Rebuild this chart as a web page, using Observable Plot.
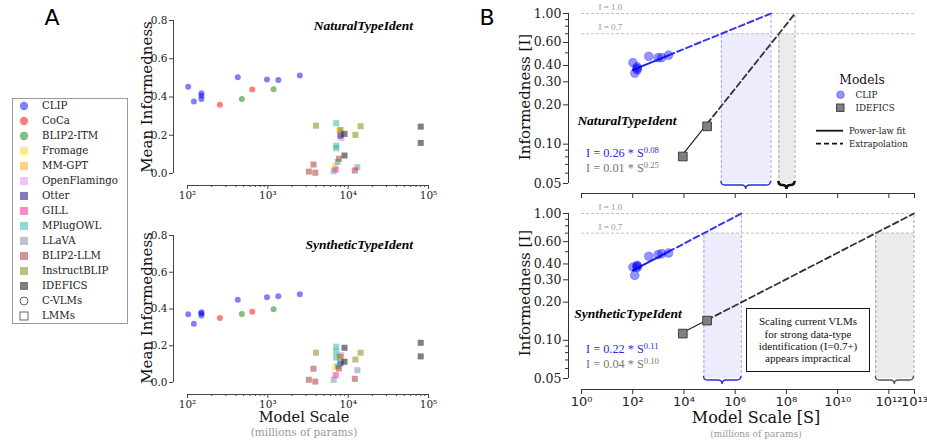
<!DOCTYPE html>
<html><head><meta charset="utf-8">
<script src="https://cdn.jsdelivr.net/npm/d3@7"></script>
<script src="https://cdn.jsdelivr.net/npm/@observablehq/plot@0.6"></script>
<style>
body{margin:0;background:#fff;}
#root{position:relative;width:927px;height:440px;overflow:hidden;font-family:"DejaVu Serif",serif;}
.abs{position:absolute;white-space:nowrap;line-height:1;}
.abs sup{font-size:70%;vertical-align:0;position:relative;top:-0.45em;}
.legA{position:absolute;left:12px;top:98px;width:116px;height:226px;border:1px solid #999;box-sizing:border-box;}
</style></head><body><div id="root"></div>
<script>
// ---------- DATA ----------
const modelNames = ["CLIP","CoCa","BLIP2-ITM","Fromage","MM-GPT","OpenFlamingo","Otter","GILL","MPlugOWL","LLaVA","BLIP2-LLM","InstructBLIP","IDEFICS"];
const modelFamily = ["C-VLM","C-VLM","C-VLM","LMM","LMM","LMM","LMM","LMM","LMM","LMM","LMM","LMM","LMM"];
const familyNames = ["C-VLMs","LMMs"];

// Panel A points (model scale in millions of params)
const ptModel = ["CLIP","CLIP","CLIP","CLIP","CLIP","CLIP","CLIP","CLIP","CLIP",
  "CoCa","CoCa","BLIP2-ITM","BLIP2-ITM",
  "Fromage","MM-GPT","OpenFlamingo","Otter","GILL",
  "MPlugOWL","MPlugOWL","MPlugOWL","MPlugOWL",
  "LLaVA","LLaVA",
  "BLIP2-LLM","BLIP2-LLM","BLIP2-LLM","BLIP2-LLM","BLIP2-LLM",
  "InstructBLIP","InstructBLIP","InstructBLIP","InstructBLIP",
  "IDEFICS","IDEFICS","IDEFICS","IDEFICS"];
const ptScale = [102,120,149,149,149,423,975,1350,2500,
  253,640,475,1180,
  6900,7800,8200,8000,7000,
  7100,7100,7100,7400,
  6600,13000,
  3240,3700,3900,7670,12100,
  3980,8030,12300,14300,
  9000,9000,80000,80000];
const ptNatural = [0.454,0.376,0.419,0.407,0.390,0.503,0.491,0.489,0.512,
  0.359,0.439,0.390,0.440,
  0.040,0.225,0.185,0.198,0.021,
  0.263,0.145,0.132,0.060,
  0.012,0.033,
  0.010,0.047,0.004,0.077,0.016,
  0.250,0.228,0.202,0.247,
  0.207,0.094,0.245,0.160];
const ptSynthetic = [0.371,0.320,0.382,0.375,0.364,0.451,0.464,0.469,0.480,
  0.351,0.385,0.373,0.398,
  0.082,0.140,0.150,0.104,0.040,
  0.195,0.167,0.136,0.090,
  0.015,0.067,
  0.015,0.075,0.005,0.076,0.020,
  0.162,0.140,0.125,0.162,
  0.189,0.113,0.216,0.142];

// Panel B points
const clipScaleB = [102,120,149,149,149,423,975,1350,2500];
const clipNaturalB = [0.42,0.35,0.39,0.38,0.37,0.47,0.46,0.46,0.48];
const clipSyntheticB = [0.378,0.325,0.39,0.385,0.375,0.459,0.474,0.482,0.488];
const idefScaleB = [9000,80000];
const idefNaturalB = [0.0805,0.137];
const idefSyntheticB = [0.113,0.143];

// Power-law fits I = a * S^b  (index 0: Natural, 1: Synthetic)
const taskNames = ["NaturalTypeIdent","SyntheticTypeIdent"];
const clipCoef = [0.256,0.218];
const clipExp = [0.080,0.106];
const idefCoef = [0.0089,0.0447];
const idefExp = [0.246,0.104];
const thresholds = [1.0,0.7];
const thresholdLabels = ["I = 1.0","I = 0.7"];

// Ticks
const aXTicks = [1e2,1e3,1e4,1e5];
const aXMinor = [2e2,3e2,4e2,5e2,6e2,7e2,8e2,9e2,2e3,3e3,4e3,5e3,6e3,7e3,8e3,9e3,2e4,3e4,4e4,5e4,6e4,7e4,8e4,9e4];
const aYTicks = [0,0.2,0.4,0.6,0.8];
const bXTicks = [1,1e2,1e4,1e6,1e8,1e10,1e12,1e13];
const bYTicks = [0.05,0.1,0.2,0.3,0.4,0.6,1.0];
const bYMinor = [0.06,0.07,0.08,0.09,0.5,0.7,0.8,0.9];

// ---------- STYLE ----------
const modelColors = ["blue","red","green","gold","orange","violet","navy","deeppink","lightseagreen","lightslategray","brown","olive","black"];
const root = document.getElementById("root");
const supDigits = "⁰¹²³⁴⁵⁶⁷⁸⁹";
const sup = v => "10" + String(Math.round(Math.log10(v))).split("").map(c => supDigits[+c]).join("");

function addText(html, x, y, o = {}) {
  const d = document.createElement("div");
  d.className = "abs";
  d.innerHTML = html;
  d.style.left = x + "px"; d.style.top = y + "px";
  d.style.fontFamily = o.family || '"DejaVu Serif", serif';
  d.style.fontSize = (o.size || 10) + "px";
  d.style.color = o.color || "#000";
  if (o.weight) d.style.fontWeight = o.weight;
  if (o.italic) d.style.fontStyle = "italic";
  const tx = o.anchor === "middle" ? "-50%" : o.anchor === "end" ? "-100%" : "0";
  d.style.transform = `translate(${tx},-50%)`;
  if (o.rotate) d.style.transform = `translate(-50%,-50%) rotate(${o.rotate}deg)`;
  root.appendChild(d);
  return d;
}
function placePlot(svg, left, top) {
  const w = document.createElement("div");
  w.style.position = "absolute"; w.style.left = left + "px"; w.style.top = top + "px";
  w.appendChild(svg); root.appendChild(w);
}

// ---------- PANEL A ----------
function panelA(values, top, height, mTop, mBottom, spineDy) {
  const rows = ptModel.map((m, i) => ({model: m, scale: ptScale[i], v: values[i], fam: modelFamily[modelNames.indexOf(m)]}));
  const circles = rows.filter(d => d.fam === "C-VLM");
  const squares = rows.filter(d => d.fam === "LMM");
  const plot = Plot.plot({
    width: 340, height, marginLeft: 87, marginRight: 12, marginTop: mTop, marginBottom: mBottom,
    style: {fontFamily: "DejaVu Serif", fontSize: "10.5px", color: "#222", background: "transparent", overflow: "visible"},
    x: {type: "log", domain: [1e2, 1e5], axis: null, label: null},
    y: {domain: [0, 0.8], axis: null, label: null},
    color: {domain: modelNames, range: modelColors},
    marks: [
      Plot.ruleY([0], {dy: spineDy, stroke: "#444"}),
      Plot.ruleX([1e2], {dx: -14, stroke: "#444"}),
      Plot.axisX({ticks: aXMinor, tickFormat: () => "", label: null, tickSize: 2, dy: spineDy, stroke: "#444"}),
      Plot.axisX({ticks: aXTicks, tickFormat: sup, label: null, tickSize: 4, tickPadding: 2, dy: spineDy, stroke: "#444"}),
      Plot.axisY({ticks: aYTicks, tickFormat: d3.format(".1f"), label: null, tickSize: 4, tickPadding: 2, dx: -14, stroke: "#444"}),
      Plot.dot(squares, {x: "scale", y: "v", fill: "model", symbol: "square", r: 3.4, fillOpacity: 0.5}),
      Plot.dot(circles, {x: "scale", y: "v", fill: "model", symbol: "circle", r: 3, fillOpacity: 0.5})
    ]
  });
  placePlot(plot, 100, top);
}
panelA(ptNatural, 0, 200, 20, 27, 12);
panelA(ptSynthetic, 220, 190, 15, 28, 12);

addText(taskNames[0], 413, 26, {family: '"Liberation Serif", serif', size: 13.5, weight: "bold", italic: true, anchor: "end"});
addText(taskNames[1], 413, 245, {family: '"Liberation Serif", serif', size: 13.5, weight: "bold", italic: true, anchor: "end"});
addText("Mean Informedness", 147, 97, {size: 15, rotate: -90, color: "#111"});
addText("Mean Informedness", 147, 308, {size: 15, rotate: -90, color: "#111"});
addText("Model Scale", 304, 417, {size: 14.5, anchor: "middle", color: "#111"});
addText("(millions of params)", 304, 432, {size: 10.5, anchor: "middle", color: "#999"});
addText("A", 52, 18, {family: '"DejaVu Sans", sans-serif', size: 22, anchor: "middle"});
addText("B", 487, 18, {family: '"DejaVu Sans", sans-serif', size: 22, anchor: "middle"});

// Legend A
const leg = document.createElement("div");
leg.className = "legA";
root.appendChild(leg);
const legItems = modelNames.map((m, i) => ({label: m, color: modelColors[i], shape: modelFamily[i] === "C-VLM" ? "circle" : "square", hollow: false}))
  .concat(familyNames.map((f, i) => ({label: f, color: "#666", shape: i === 0 ? "circle" : "square", hollow: true})));
legItems.forEach((it, i) => {
  const y = 106 + i * 15.03;
  const s = document.createElementNS("http://www.w3.org/2000/svg", "svg");
  s.setAttribute("width", 12); s.setAttribute("height", 12);
  s.style.position = "absolute"; s.style.left = "18px"; s.style.top = (y - 6) + "px";
  let el;
  if (it.shape === "circle") { el = document.createElementNS(s.namespaceURI, "circle"); el.setAttribute("cx", 6); el.setAttribute("cy", 6); el.setAttribute("r", it.hollow ? 4 : 4.2); }
  else { el = document.createElementNS(s.namespaceURI, "rect"); el.setAttribute("x", 2); el.setAttribute("y", 2); el.setAttribute("width", 8); el.setAttribute("height", 8); }
  if (it.hollow) { el.setAttribute("fill", "none"); el.setAttribute("stroke", "#555"); el.setAttribute("stroke-width", 0.9); }
  else { el.setAttribute("fill", it.color); el.setAttribute("fill-opacity", 0.5); }
  s.appendChild(el); root.appendChild(s);
  addText(it.label, 42, y, {size: 10.2, color: "#222"});
});

// ---------- PANEL B ----------
function brace(x1, x2, y0) {
  const xm = (x1 + x2) / 2, r = Math.min(4, (x2 - x1) / 4), ym = y0 + 4, yt = y0 + 8;
  return `M${x1},${y0} Q${x1},${ym} ${x1 + r},${ym} L${xm - r},${ym} Q${xm},${ym} ${xm},${yt} Q${xm},${ym} ${xm + r},${ym} L${x2 - r},${ym} Q${x2},${ym} ${x2},${y0}`;
}
function panelB(ci, clipVals, idefVals, top, height, mTop, mBottom, spineDy, showLabels, idefBraceStyle) {
  const a1 = clipCoef[ci], b1 = clipExp[ci], a2 = idefCoef[ci], b2 = idefExp[ci];
  const sAt = (a, b, I) => Math.pow(I / a, 1 / b);
  const f = (a, b) => s => ({s, I: a * Math.pow(s, b)});
  const cMin = d3.min(clipScaleB), cMax = d3.max(clipScaleB);
  const iMin = d3.min(idefScaleB), iMax = d3.max(idefScaleB);
  const c07 = sAt(a1, b1, 0.7), c1 = sAt(a1, b1, 1);
  const i07 = sAt(a2, b2, 0.7), i1 = sAt(a2, b2, 1);
  const clipPts = clipScaleB.map((s, i) => ({s, I: clipVals[i]}));
  const idefPts = idefScaleB.map((s, i) => ({s, I: idefVals[i]}));
  const regions = [{x1: c07, x2: c1, y1: 0.05, y2: 0.7, fill: "#ececfc", stroke: "#9a9af5"}, {x1: i07, x2: i1, y1: 0.05, y2: 0.7, fill: "#ebebeb", stroke: "#999"}];
  const thr = thresholds.map((t, i) => ({x: 1, y: t, label: thresholdLabels[i]}));
  const plot = Plot.plot({
    width: 427, height, marginLeft: 81, marginRight: 13, marginTop: mTop, marginBottom: mBottom,
    style: {fontFamily: "DejaVu Serif", fontSize: "12.5px", color: "#222", background: "transparent", overflow: "visible"},
    x: {type: "log", domain: [1, 1e13], axis: null, label: null},
    y: {type: "log", domain: [0.05, 1], axis: null, label: null},
    marks: [
      Plot.rect(regions, {x1: "x1", x2: "x2", y1: "y1", y2: "y2", fill: "fill"}),
      Plot.ruleX(regions, {x: "x1", y1: "y1", y2: "y2", stroke: "stroke", strokeDasharray: "3,2", strokeWidth: 0.9}),
      Plot.ruleX(regions, {x: "x2", y1: "y1", y2: () => 1, stroke: "stroke", strokeDasharray: "3,2", strokeWidth: 0.9}),
      Plot.ruleY(thresholds, {stroke: "#bbb", strokeDasharray: "3,2", strokeWidth: 0.9}),
      Plot.text(thr, {x: "x", y: "y", text: "label", dx: 17, dy: -6.5, textAnchor: "start", fill: "#999", fontSize: 9, fontFamily: "Liberation Serif"}),
      Plot.line([cMax, c1].map(f(a1, b1)), {x: "s", y: "I", stroke: "#3535ee", strokeWidth: 2, strokeDasharray: "6,3.5"}),
      Plot.line([iMax, i1].map(f(a2, b2)), {x: "s", y: "I", stroke: "#333", strokeWidth: 1.8, strokeDasharray: "6,3.5"}),
      Plot.line([cMin, cMax].map(f(a1, b1)), {x: "s", y: "I", stroke: "#2020e0", strokeWidth: 2}),
      Plot.line([iMin, iMax].map(f(a2, b2)), {x: "s", y: "I", stroke: "#222", strokeWidth: 1.2}),
      Plot.dot(clipPts, {x: "s", y: "I", r: 4.4, fill: "blue", fillOpacity: 0.42, stroke: "blue", strokeOpacity: 0.35, strokeWidth: 0.8}),
      Plot.dot(idefPts, {x: "s", y: "I", symbol: "square", r: 4.9, fill: "#808080", stroke: "#333", strokeWidth: 0.9}),
      Plot.ruleY([0.05], {dy: spineDy, stroke: "#333"}),
      Plot.ruleX([1], {dx: -13, stroke: "#333"}),
      Plot.axisX({ticks: bXTicks, tickFormat: showLabels ? sup : () => "", label: null, tickSize: 5, tickPadding: 2, dy: spineDy, stroke: "#333", fontFamily: "DejaVu Sans", fontSize: 13}),
      Plot.axisY({ticks: bYMinor, tickFormat: () => "", label: null, tickSize: 3, dx: -13, stroke: "#333"}),
      Plot.axisY({ticks: bYTicks, tickFormat: d3.format(".2f"), label: null, tickSize: 5, tickPadding: 2, dx: -13, stroke: "#333"})
    ]
  });
  const sx = plot.scale("x"), sy = plot.scale("y");
  const yb = sy.apply(0.05) - 2;
  const g = d3.select(plot);
  g.append("path").attr("d", brace(sx.apply(c07), sx.apply(c1), yb)).attr("fill", "none").attr("stroke", "#2a2ae8").attr("stroke-width", 1.3);
  g.append("path").attr("d", brace(sx.apply(i07), sx.apply(i1), yb)).attr("fill", "none").attr("stroke", idefBraceStyle[0]).attr("stroke-width", idefBraceStyle[1]);
  placePlot(plot, 500, top);
}
panelB(0, clipNaturalB, idefNaturalB, 0, 205, 13, 22, 10, false, ["#111", 2.6]);
panelB(1, clipSyntheticB, idefSyntheticB, 205, 205, 8, 32, 11, true, ["#555", 1.3]);

const fmt = v => v.toFixed(2);
function formulaHtml(a, b) { return `I = ${fmt(a)} * S<sup>${fmt(b)}</sup>`; }
addText(taskNames[0], 627, 121, {family: '"Liberation Serif", serif', size: 13.5, weight: "bold", italic: true, anchor: "middle"});
addText(formulaHtml(clipCoef[0], clipExp[0]), 586, 153, {family: '"Liberation Serif", serif', size: 12.3, color: "#2a2ae8"});
addText(formulaHtml(idefCoef[0], idefExp[0]), 586, 168, {family: '"Liberation Serif", serif', size: 12.3, color: "#777"});
addText(taskNames[1], 628, 314, {family: '"Liberation Serif", serif', size: 13.5, weight: "bold", italic: true, anchor: "middle"});
addText(formulaHtml(clipCoef[1], clipExp[1]), 586, 349, {family: '"Liberation Serif", serif', size: 12.3, color: "#2a2ae8"});
addText(formulaHtml(idefCoef[1], idefExp[1]), 586, 364, {family: '"Liberation Serif", serif', size: 12.3, color: "#777"});

addText("Informedness [I]", 525, 97, {size: 15, rotate: -90, color: "#111"});
addText("Informedness [I]", 525, 293, {size: 15, rotate: -90, color: "#111"});
addText("Model Scale [S]", 756, 418, {size: 16, anchor: "middle", color: "#111"});
addText("(millions of params)", 756, 434, {size: 9, anchor: "middle", color: "#999"});

// annotation box
const box = document.createElement("div");
box.style.cssText = "position:absolute;left:746px;top:308px;width:124px;height:64px;border:1px solid #111;box-sizing:border-box;display:flex;align-items:center;justify-content:center;text-align:center;font-family:'Liberation Serif',serif;font-size:11px;line-height:12.3px;color:#111;background:#fff;";
box.innerHTML = "Scaling current VLMs<br>for strong data-type<br>identification (I=0.7+)<br>appears impractical";
root.appendChild(box);

// Legend B
addText("Models", 862, 80, {size: 12.3, anchor: "middle", color: "#111"});
const lb = document.createElementNS("http://www.w3.org/2000/svg", "svg");
lb.setAttribute("width", 40); lb.setAttribute("height", 60);
lb.style.cssText = "position:absolute;left:812px;top:88px;";
lb.innerHTML = `<circle cx="28.5" cy="6.7" r="3.8" fill="blue" fill-opacity="0.42" stroke="blue" stroke-opacity="0.35"/>
<rect x="24.6" y="16" width="7.4" height="7.4" fill="#808080" stroke="#333" stroke-width="0.9"/>
<line x1="4" x2="31" y1="42.7" y2="42.7" stroke="#111" stroke-width="1.8"/>
<line x1="4" x2="31" y1="55.7" y2="55.7" stroke="#111" stroke-width="1.8" stroke-dasharray="5,3"/>`;
root.appendChild(lb);
addText("CLIP", 855.5, 95, {size: 8.8, color: "#222"});
addText("IDEFICS", 855.5, 108, {size: 8.8, color: "#222"});
addText("Power-law fit", 849, 130.5, {size: 8.5, color: "#222"});
addText("Extrapolation", 849, 143.5, {size: 8.5, color: "#222"});
</script></body></html>
